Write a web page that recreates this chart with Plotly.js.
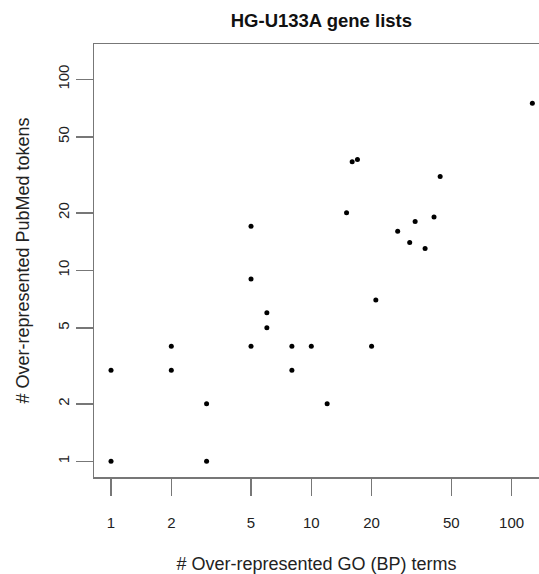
<!DOCTYPE html>
<html>
<head>
<meta charset="utf-8">
<script src="https://cdn.plot.ly/plotly-3.0.1.min.js"></script>
<style>html,body{margin:0;padding:0;background:#fff;}#chart{width:539px;height:574px;}</style>
</head>
<body>
<div id="chart"></div>
<script>
// Data
const goTerms = [127, 16, 17, 44, 15, 5, 27, 33, 41, 31, 37, 5, 21, 6, 6, 2, 5, 8, 10, 20, 1, 2, 8, 3, 12, 1, 3];
const pubmedTokens = [75, 37, 38, 31, 20, 17, 16, 18, 19, 14, 13, 9, 7, 6, 5, 4, 4, 4, 4, 4, 3, 3, 3, 2, 2, 1, 1];
const tickVals = [1, 2, 5, 10, 20, 50, 100];
const tickText = ["1", "2", "5", "10", "20", "50", "100"];

const FONT = "Liberation Sans, Arial, sans-serif";

const trace = {
  x: goTerms,
  y: pubmedTokens,
  type: "scatter",
  mode: "markers",
  marker: {color: "#000", size: 5},
  hoverinfo: "x+y"
};

const layout = {
  width: 539,
  height: 574,
  margin: {l: 94, r: 0, t: 44, b: 97, pad: 0},
  paper_bgcolor: "#fff",
  plot_bgcolor: "#fff",
  showlegend: false,
  font: {family: FONT, color: "#222", size: 15},
  title: {
    text: "<b>HG-U133A gene lists</b>",
    font: {family: FONT, size: 18.5, color: "#111"},
    xref: "paper", x: 0.511, xanchor: "center",
    yref: "container", y: 0.964, yanchor: "middle"
  },
  xaxis: {
    type: "log",
    range: [-0.085, 2.137],
    tickvals: tickVals,
    ticktext: tickText,
    ticks: "outside",
    ticklen: 17,
    tickwidth: 1.5,
    tickcolor: "#777",
    showline: true,
    linecolor: "#777",
    linewidth: 1.5,
    mirror: true,
    showgrid: false,
    zeroline: false,
    ticklabelstandoff: 14,
    tickfont: {family: FONT, size: 15, color: "#222"},
    automargin: false,
    title: {text: "# Over-represented GO (BP) terms", font: {family: FONT, size: 18, color: "#222"}, standoff: 28}
  },
  yaxis: {
    type: "log",
    range: [-0.082, 2.185],
    tickvals: tickVals,
    ticktext: tickText,
    tickangle: -90,
    ticks: "outside",
    ticklen: 17,
    tickwidth: 1.5,
    tickcolor: "#777",
    showline: true,
    linecolor: "#777",
    linewidth: 1.5,
    mirror: false,
    showgrid: false,
    zeroline: false,
    ticklabelstandoff: 1,
    tickfont: {family: FONT, size: 15, color: "#222"},
    automargin: false,
    title: {text: "# Over-represented PubMed tokens", font: {family: FONT, size: 18, color: "#222"}, standoff: 20}
  }
};

Plotly.newPlot("chart", [trace], layout, {displayModeBar: false, staticPlot: true});
</script>
</body>
</html>
